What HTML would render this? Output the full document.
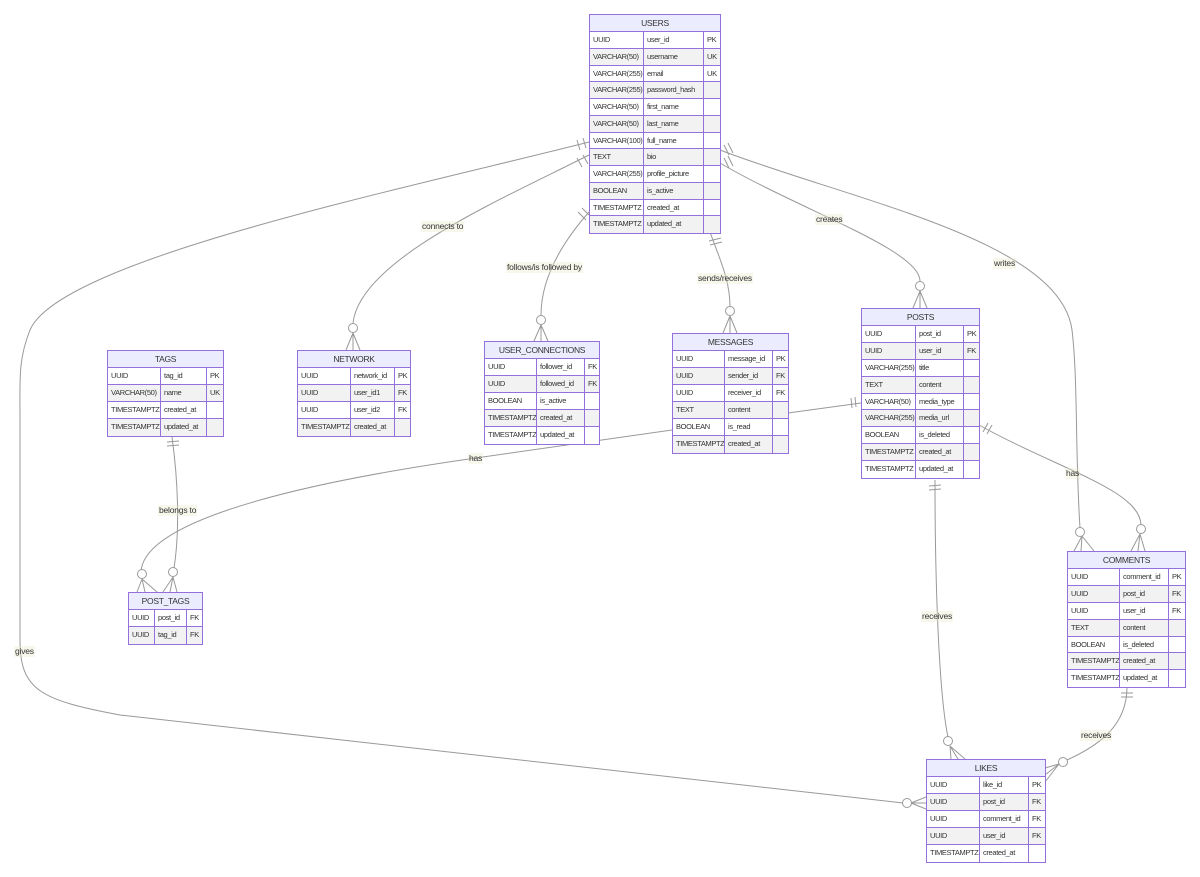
<!DOCTYPE html>
<html><head><meta charset="utf-8">
<style>
body{margin:0;width:1200px;height:877px;background:#fff;position:relative;overflow:hidden;font-family:"Liberation Sans",sans-serif;}
svg{position:absolute;left:0;top:0}
.t{position:absolute;border:1px solid #9370DB;box-sizing:border-box;font-size:7.5px;letter-spacing:-0.35px;color:#333;background:#fff}
.h{height:16px;line-height:16px;text-align:center;background:#ECECFF;border-bottom:1px solid #9370DB;font-size:8.5px;letter-spacing:-0.3px;color:#333}
.r{display:flex;height:16.75px;line-height:15px;border-bottom:1px solid #9370DB;box-sizing:border-box}
.r:last-child{border-bottom:none}
.r span{box-sizing:border-box;padding-left:3px;border-right:1px solid #9370DB;white-space:nowrap;overflow:hidden}
.r span:last-child{border-right:none;flex:1}
.lb{position:absolute;font-size:8.5px;letter-spacing:-0.2px;color:#333;background:rgba(232,232,200,0.35);line-height:11px;padding:0 1px}
</style></head><body>
<svg width="1200" height="877" fill="none" stroke="#999" stroke-width="1">
<path d="M589,142 C400,190 60,260 30,330 C18,360 20,380 20,420 L20,640 C20,690 40,700 120,715 L903,803"/>
<circle cx="907" cy="803" r="4.5" fill="#fff"/>
<path d="M911,803 L926,797 M911,803 L926,803 M911,803 L926,809"/>
<path d="M577,140 L580,150 M583,138 L586,148"/>
<path d="M589,155 C500,200 360,260 353,323"/>
<circle cx="353" cy="328" r="4.5" fill="#fff"/>
<path d="M353,333 L346,350 M353,333 L353,350 M353,333 L360,350"/>
<path d="M577,158 L582,167 M583,155 L588,164"/>
<path d="M589,212 C560,245 541,280 541,315"/>
<circle cx="541" cy="320" r="4.5" fill="#fff"/>
<path d="M541,325 L534,341 M541,325 L541,341 M541,325 L548,341"/>
<path d="M578,212 L586,220 M582,208 L590,216"/>
<path d="M710,232 C720,260 730,280 730,307"/>
<circle cx="730" cy="311" r="4.5" fill="#fff"/>
<path d="M730,316 L723,333 M730,316 L730,333 M730,316 L737,333"/>
<path d="M709,241 L721,238 M710,245 L722,242"/>
<path d="M720,163 C800,210 920,250 920,281"/>
<circle cx="920" cy="286" r="4.5" fill="#fff"/>
<path d="M920,291 L913,308 M920,291 L920,308 M920,291 L927,308"/>
<path d="M724,158 L729,168 M728,156 L733,166"/>
<path d="M720,150 C850,200 1060,240 1072,330 C1078,380 1075,450 1080,528"/>
<circle cx="1080" cy="532" r="4.5" fill="#fff"/>
<path d="M1082,536 L1074,551 M1082,536 L1081,551 M1082,536 L1094,551"/>
<path d="M724,145 L729,155 M728,143 L733,153"/>
<path d="M861,403 L788,413 M672,430 L476,458 C250,490 141,530 141,573"/>
<circle cx="142" cy="574" r="4.5" fill="#fff"/>
<path d="M142,579 L137,592 M142,579 L145,592 M142,579 L157,592"/>
<path d="M851,398 L852,408 M855,397 L856,407"/>
<path d="M172,437 C178,480 180,530 174,568"/>
<circle cx="173" cy="572" r="4.5" fill="#fff"/>
<path d="M173,577 L163,592 M173,577 L170,592 M173,577 L177,592"/>
<path d="M167,442 L179,441 M167,446 L179,445"/>
<path d="M979,425 C1060,470 1140,490 1141,525"/>
<circle cx="1141" cy="529" r="4.5" fill="#fff"/>
<path d="M1140,534 L1131,551 M1140,534 L1138,551 M1140,534 L1145,551"/>
<path d="M983,432 L988,423 M987,434 L992,425"/>
<path d="M935,480 C935,600 940,700 948,737"/>
<circle cx="948" cy="741" r="4.5" fill="#fff"/>
<path d="M950,746 L951,759 M950,746 L958,759 M950,746 L965,759"/>
<path d="M929,486 L941,485 M929,490 L941,489"/>
<path d="M1127,687 C1127,725 1100,745 1067,760"/>
<circle cx="1063" cy="762" r="4.5" fill="#fff"/>
<path d="M1059,764 L1045,768 M1059,764 L1045,775 M1059,764 L1045,782"/>
<path d="M1121,693 L1133,693 M1121,697 L1133,697"/>
</svg>

<div class="lb" style="left:421px;top:221px">connects to</div>
<div class="lb" style="left:506px;top:262px">follows/is followed by</div>
<div class="lb" style="left:697px;top:273px">sends/receives</div>
<div class="lb" style="left:815px;top:214px">creates</div>
<div class="lb" style="left:993px;top:258px">writes</div>
<div class="lb" style="left:468px;top:453px">has</div>
<div class="lb" style="left:158px;top:505px">belongs to</div>
<div class="lb" style="left:1065px;top:468px">has</div>
<div class="lb" style="left:921px;top:611px">receives</div>
<div class="lb" style="left:1080px;top:730px">receives</div>
<div class="lb" style="left:14px;top:646px">gives</div>

<div class="t" style="left:589px;top:14px;width:132px"><div class="h">USERS</div>
<div class="r" style="background:#fff"><span style="width:54px">UUID</span><span style="width:60px">user_id</span><span>PK</span></div>
<div class="r" style="background:#f2f2f2"><span style="width:54px">VARCHAR(50)</span><span style="width:60px">username</span><span>UK</span></div>
<div class="r" style="background:#fff"><span style="width:54px">VARCHAR(255)</span><span style="width:60px">email</span><span>UK</span></div>
<div class="r" style="background:#f2f2f2"><span style="width:54px">VARCHAR(255)</span><span style="width:60px">password_hash</span><span></span></div>
<div class="r" style="background:#fff"><span style="width:54px">VARCHAR(50)</span><span style="width:60px">first_name</span><span></span></div>
<div class="r" style="background:#f2f2f2"><span style="width:54px">VARCHAR(50)</span><span style="width:60px">last_name</span><span></span></div>
<div class="r" style="background:#fff"><span style="width:54px">VARCHAR(100)</span><span style="width:60px">full_name</span><span></span></div>
<div class="r" style="background:#f2f2f2"><span style="width:54px">TEXT</span><span style="width:60px">bio</span><span></span></div>
<div class="r" style="background:#fff"><span style="width:54px">VARCHAR(255)</span><span style="width:60px">profile_picture</span><span></span></div>
<div class="r" style="background:#f2f2f2"><span style="width:54px">BOOLEAN</span><span style="width:60px">is_active</span><span></span></div>
<div class="r" style="background:#fff"><span style="width:54px">TIMESTAMPTZ</span><span style="width:60px">created_at</span><span></span></div>
<div class="r" style="background:#f2f2f2"><span style="width:54px">TIMESTAMPTZ</span><span style="width:60px">updated_at</span><span></span></div>
</div>

<div class="t" style="left:107px;top:350px;width:117px"><div class="h">TAGS</div>
<div class="r" style="background:#fff;height:17px"><span style="width:53px">UUID</span><span style="width:46px">tag_id</span><span>PK</span></div>
<div class="r" style="background:#f2f2f2;height:17px"><span style="width:53px">VARCHAR(50)</span><span style="width:46px">name</span><span>UK</span></div>
<div class="r" style="background:#fff;height:17px"><span style="width:53px">TIMESTAMPTZ</span><span style="width:46px">created_at</span><span></span></div>
<div class="r" style="background:#f2f2f2;height:17px"><span style="width:53px">TIMESTAMPTZ</span><span style="width:46px">updated_at</span><span></span></div>
</div>

<div class="t" style="left:297px;top:350px;width:114px"><div class="h">NETWORK</div>
<div class="r" style="background:#fff;height:17px"><span style="width:53px">UUID</span><span style="width:44px">network_id</span><span>PK</span></div>
<div class="r" style="background:#f2f2f2;height:17px"><span style="width:53px">UUID</span><span style="width:44px">user_id1</span><span>FK</span></div>
<div class="r" style="background:#fff;height:17px"><span style="width:53px">UUID</span><span style="width:44px">user_id2</span><span>FK</span></div>
<div class="r" style="background:#f2f2f2;height:17px"><span style="width:53px">TIMESTAMPTZ</span><span style="width:44px">created_at</span><span></span></div>
</div>

<div class="t" style="left:484px;top:341px;width:116px"><div class="h">USER_CONNECTIONS</div>
<div class="r" style="background:#fff;height:17px"><span style="width:52px">UUID</span><span style="width:48px">follower_id</span><span>FK</span></div>
<div class="r" style="background:#f2f2f2;height:17px"><span style="width:52px">UUID</span><span style="width:48px">followed_id</span><span>FK</span></div>
<div class="r" style="background:#fff;height:17px"><span style="width:52px">BOOLEAN</span><span style="width:48px">is_active</span><span></span></div>
<div class="r" style="background:#f2f2f2;height:17px"><span style="width:52px">TIMESTAMPTZ</span><span style="width:48px">created_at</span><span></span></div>
<div class="r" style="background:#fff;height:17px"><span style="width:52px">TIMESTAMPTZ</span><span style="width:48px">updated_at</span><span></span></div>
</div>

<div class="t" style="left:672px;top:333px;width:117px"><div class="h">MESSAGES</div>
<div class="r" style="background:#fff;height:17px"><span style="width:52px">UUID</span><span style="width:48px">message_id</span><span>PK</span></div>
<div class="r" style="background:#f2f2f2;height:17px"><span style="width:52px">UUID</span><span style="width:48px">sender_id</span><span>FK</span></div>
<div class="r" style="background:#fff;height:17px"><span style="width:52px">UUID</span><span style="width:48px">receiver_id</span><span>FK</span></div>
<div class="r" style="background:#f2f2f2;height:17px"><span style="width:52px">TEXT</span><span style="width:48px">content</span><span></span></div>
<div class="r" style="background:#fff;height:17px"><span style="width:52px">BOOLEAN</span><span style="width:48px">is_read</span><span></span></div>
<div class="r" style="background:#f2f2f2;height:17px"><span style="width:52px">TIMESTAMPTZ</span><span style="width:48px">created_at</span><span></span></div>
</div>

<div class="t" style="left:861px;top:308px;width:119px"><div class="h">POSTS</div>
<div class="r" style="background:#fff;height:16.9px"><span style="width:54px">UUID</span><span style="width:48px">post_id</span><span>PK</span></div>
<div class="r" style="background:#f2f2f2;height:16.9px"><span style="width:54px">UUID</span><span style="width:48px">user_id</span><span>FK</span></div>
<div class="r" style="background:#fff;height:16.9px"><span style="width:54px">VARCHAR(255)</span><span style="width:48px">title</span><span></span></div>
<div class="r" style="background:#f2f2f2;height:16.9px"><span style="width:54px">TEXT</span><span style="width:48px">content</span><span></span></div>
<div class="r" style="background:#fff;height:16.9px"><span style="width:54px">VARCHAR(50)</span><span style="width:48px">media_type</span><span></span></div>
<div class="r" style="background:#f2f2f2;height:16.9px"><span style="width:54px">VARCHAR(255)</span><span style="width:48px">media_url</span><span></span></div>
<div class="r" style="background:#fff;height:16.9px"><span style="width:54px">BOOLEAN</span><span style="width:48px">is_deleted</span><span></span></div>
<div class="r" style="background:#f2f2f2;height:16.9px"><span style="width:54px">TIMESTAMPTZ</span><span style="width:48px">created_at</span><span></span></div>
<div class="r" style="background:#fff;height:16.9px"><span style="width:54px">TIMESTAMPTZ</span><span style="width:48px">updated_at</span><span></span></div>
</div>

<div class="t" style="left:1067px;top:551px;width:119px"><div class="h">COMMENTS</div>
<div class="r" style="background:#fff;height:16.9px"><span style="width:52px">UUID</span><span style="width:49px">comment_id</span><span>PK</span></div>
<div class="r" style="background:#f2f2f2;height:16.9px"><span style="width:52px">UUID</span><span style="width:49px">post_id</span><span>FK</span></div>
<div class="r" style="background:#fff;height:16.9px"><span style="width:52px">UUID</span><span style="width:49px">user_id</span><span>FK</span></div>
<div class="r" style="background:#f2f2f2;height:16.9px"><span style="width:52px">TEXT</span><span style="width:49px">content</span><span></span></div>
<div class="r" style="background:#fff;height:16.9px"><span style="width:52px">BOOLEAN</span><span style="width:49px">is_deleted</span><span></span></div>
<div class="r" style="background:#f2f2f2;height:16.9px"><span style="width:52px">TIMESTAMPTZ</span><span style="width:49px">created_at</span><span></span></div>
<div class="r" style="background:#fff;height:16.9px"><span style="width:52px">TIMESTAMPTZ</span><span style="width:49px">updated_at</span><span></span></div>
</div>

<div class="t" style="left:128px;top:592px;width:75px"><div class="h">POST_TAGS</div>
<div class="r" style="background:#fff;height:17px"><span style="width:26px">UUID</span><span style="width:32px">post_id</span><span>FK</span></div>
<div class="r" style="background:#f2f2f2;height:17px"><span style="width:26px">UUID</span><span style="width:32px">tag_id</span><span>FK</span></div>
</div>

<div class="t" style="left:926px;top:759px;width:120px"><div class="h">LIKES</div>
<div class="r" style="background:#fff;height:17px"><span style="width:53px">UUID</span><span style="width:49px">like_id</span><span>PK</span></div>
<div class="r" style="background:#f2f2f2;height:17px"><span style="width:53px">UUID</span><span style="width:49px">post_id</span><span>FK</span></div>
<div class="r" style="background:#fff;height:17px"><span style="width:53px">UUID</span><span style="width:49px">comment_id</span><span>FK</span></div>
<div class="r" style="background:#f2f2f2;height:17px"><span style="width:53px">UUID</span><span style="width:49px">user_id</span><span>FK</span></div>
<div class="r" style="background:#fff;height:17px"><span style="width:53px">TIMESTAMPTZ</span><span style="width:49px">created_at</span><span></span></div>
</div>
</body></html>
